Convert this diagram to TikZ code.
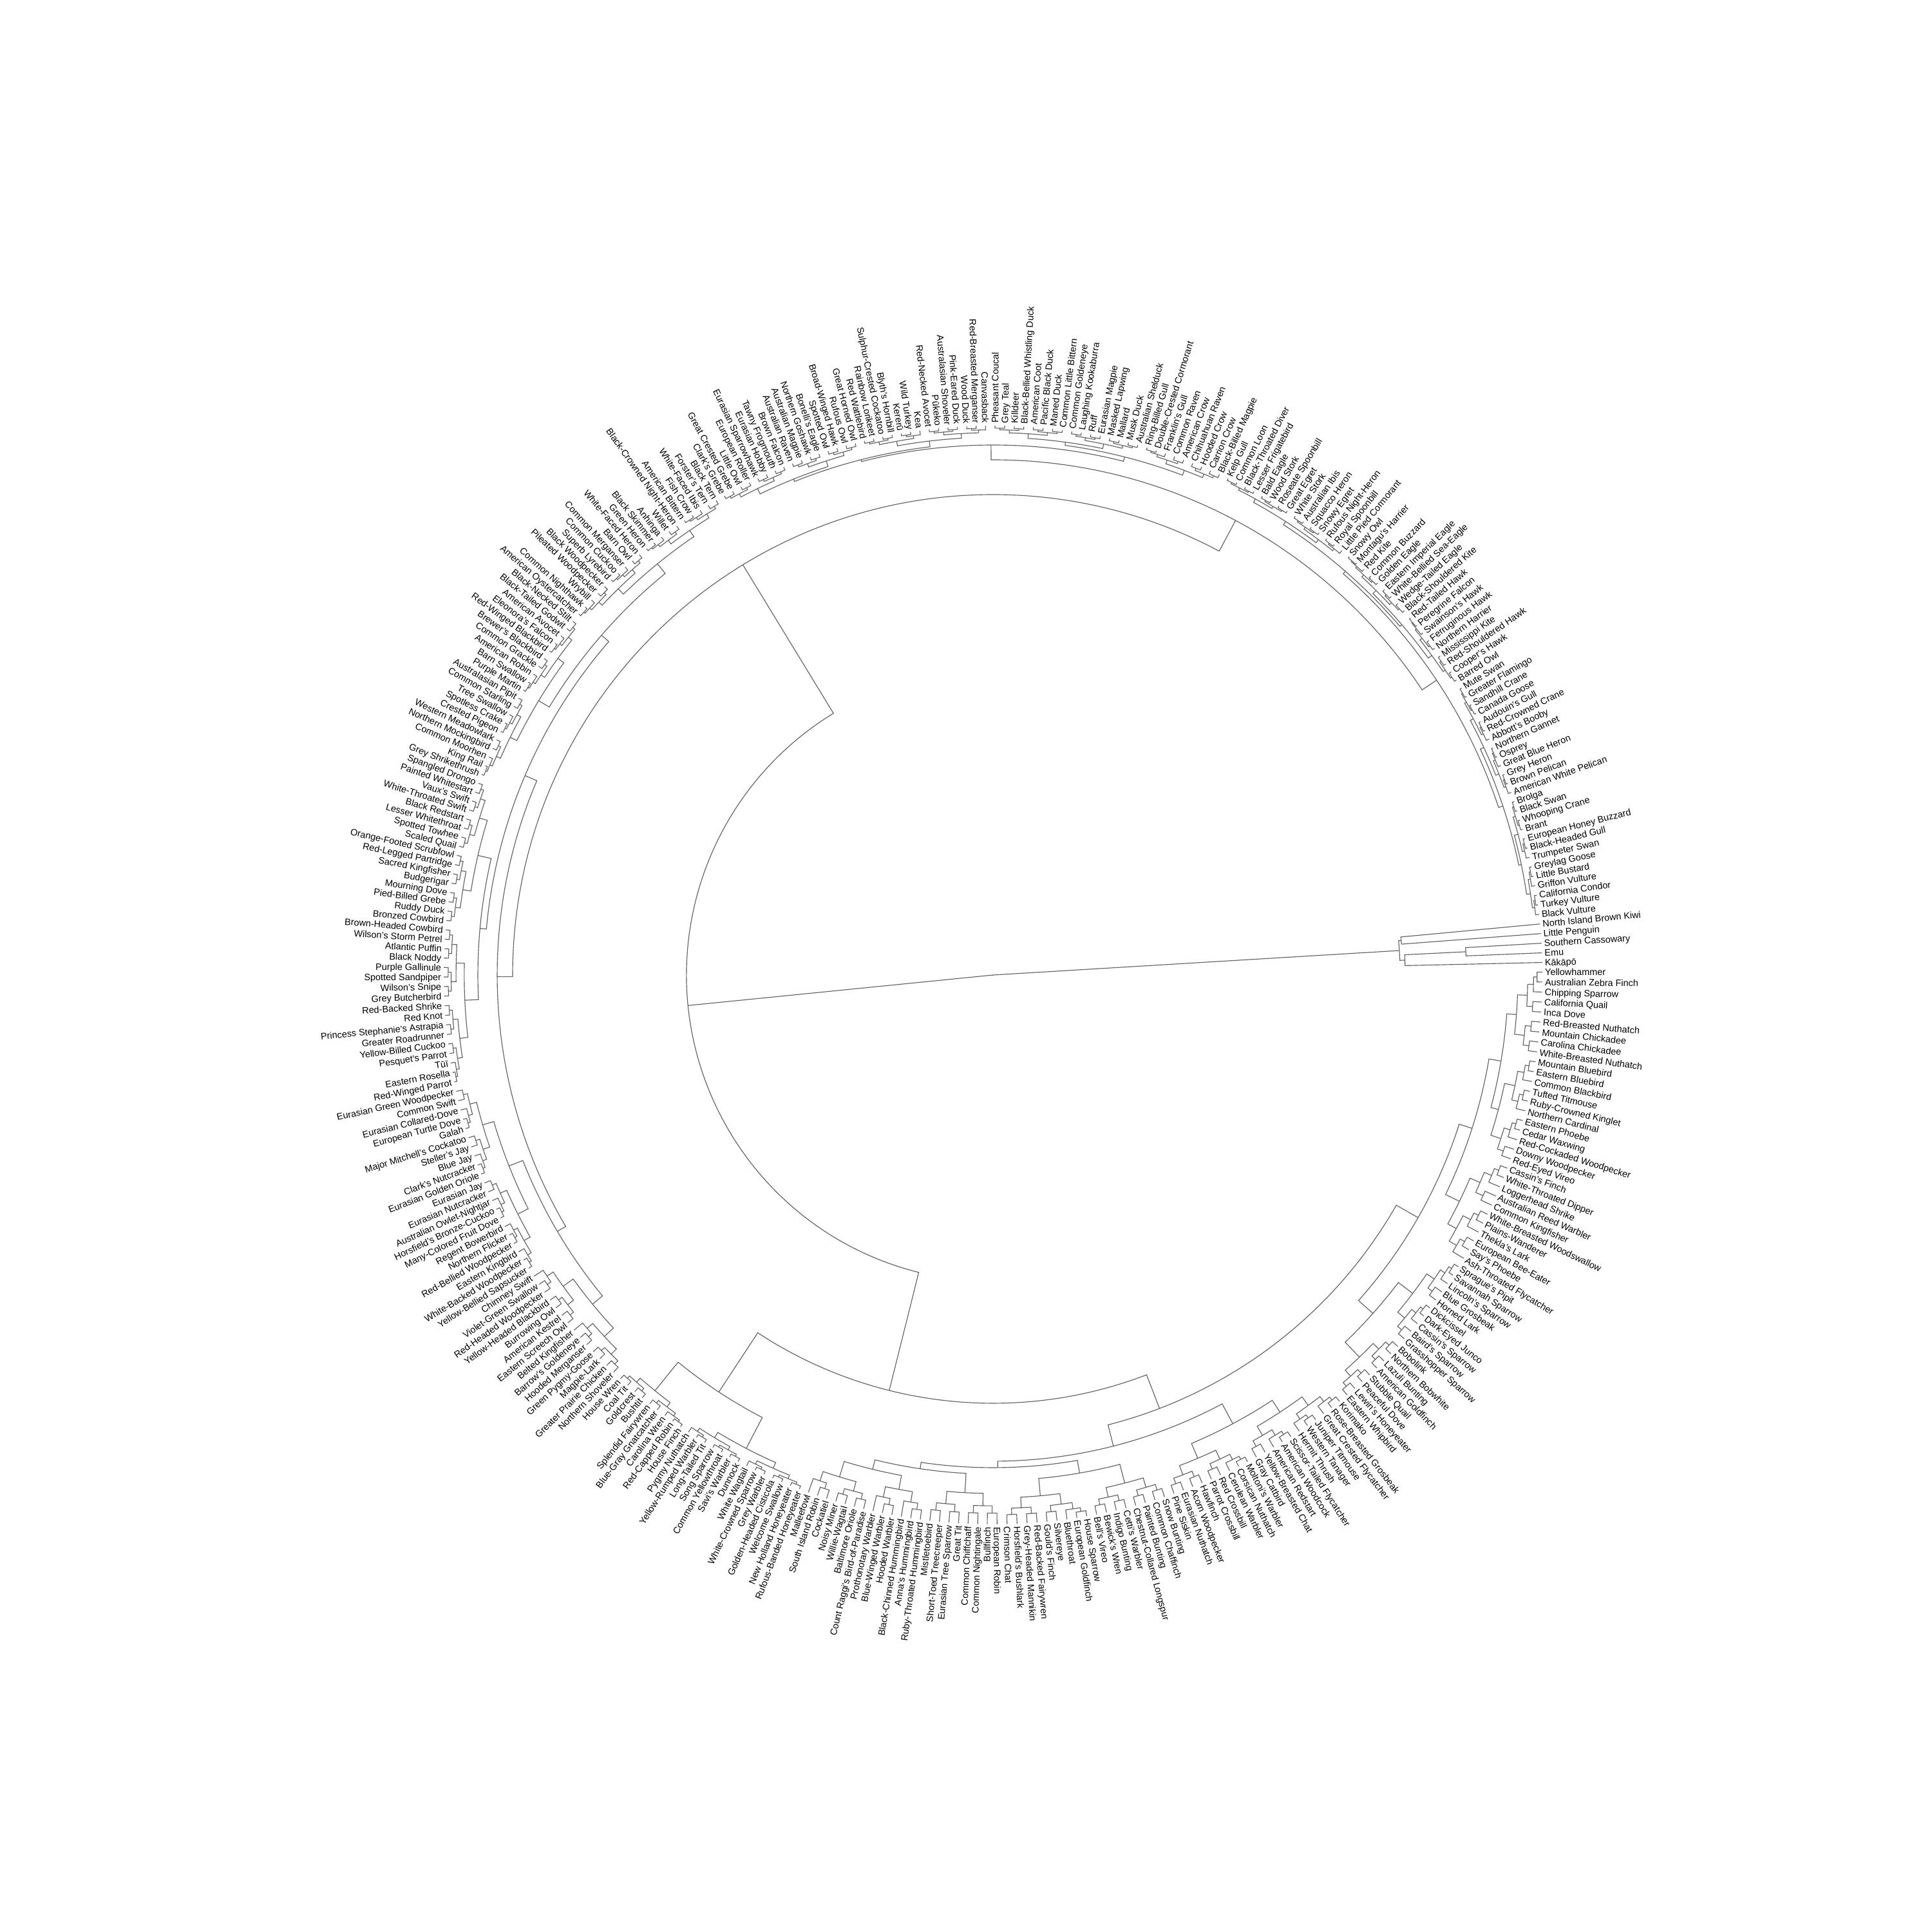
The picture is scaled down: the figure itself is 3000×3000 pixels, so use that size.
\documentclass[tikz,border=0pt]{standalone}
\usepackage{fontspec}
\setmainfont{Liberation Sans}
\tikzset{
  treeline/.style={draw=black!62, line width=1.15pt},
  lab/.style={font=\fontsize{14.4pt}{17pt}\selectfont, inner sep=0pt, text height=10.4pt, text depth=0pt, text=black},
}
\def\Rtip{853}
% tip index -> angle in degrees
\newcommand\tAng[1]{\pgfmathsetmacro\A{(#1<6.3)?(-(#1-6.3)*1.00559):((#1<92.4)?(-(#1-6.3)*1.0453):((#1<182.2)?(-90-(#1-92.4)*1.00223):((#1<273.8)?(-180-(#1-182.2)*0.98253):(-270-(#1-273.8)*1.00559))))}}
% leaf
\newcommand\TL[1]{\xdef\tca{#1}\xdef\tcr{\Rtip}}
% binary node with optional position override: override index, radius, child A, child B
\newcommand\TNo[4]{%
  \begingroup
  \edef\tOv{#1}\edef\tNr{#2}%
  #3\edef\tIa{\tca}\edef\tRa{\tcr}%
  #4\edef\tIb{\tca}\edef\tRb{\tcr}%
  \tAng{\tIa}\let\tAa\A
  \tAng{\tIb}\let\tAb\A
  \draw[treeline] (\tAa:\tRa pt) -- (\tAa:\tNr pt) arc[start angle=\tAa, end angle=\tAb, radius=\tNr pt] -- (\tAb:\tRb pt);
  \ifx\tOv\empty\pgfmathsetmacro\tIm{(\tIa+\tIb)/2}\else\edef\tIm{\tOv}\fi
  \xdef\tca{\tIm}\xdef\tcr{\tNr}%
  \endgroup}
\newcommand\TN[3]{\TNo{}{#1}{#2}{#3}}
% automatic shallow sub-tree over tips a..b, root radius r
\newcommand\TR[3]{%
  \begingroup
  \edef\trA{#1}\edef\trB{#2}\edef\trR{#3}%
  \ifnum\trA=\trB\relax
    \TL{\trA}%
  \else
    \pgfmathtruncatemacro\trM{floor((\trA+\trB)/2)}%
    \pgfmathtruncatemacro\trMp{\trM+1}%
    \pgfmathsetmacro\trRc{\Rtip-(\Rtip-\trR)*0.6}%
    \TN{\trR}{\TR{\trA}{\trM}{\trRc}}{\TR{\trMp}{\trB}{\trRc}}%
  \fi
  \endgroup}
\begin{document}
\begin{tikzpicture}
\useasboundingbox (0pt,0pt) rectangle (3000pt,3000pt);
\fill[white] (0pt,0pt) rectangle (3000pt,3000pt);
\begin{scope}[shift={(1542pt,1486pt)}]
% tree
\TN{0.5}
 {\TN{632}{\TN{636}{\TL{1}}{\TL{2}}}{\TN{640}{\TN{735}{\TL{3}}{\TL{4}}}{\TL{5}}}}
 {\TNo{176.5}{476}
   {\TNo{106.4}{665}
     {\TNo{72.3}{721}
        {\TN{760}
           {\TN{781}{\TN{800}{\TR{6}{14}{815}}{\TR{15}{25}{812}}}{\TN{805}{\TR{26}{30}{822}}{\TR{31}{36}{820}}}}
           {\TN{790}{\TR{37}{46}{818}}{\TR{47}{54}{822}}}}
        {\TN{755}
           {\TN{790}{\TR{55}{65}{812}}{\TR{66}{74}{815}}}
           {\TN{765}{\TN{785}{\TR{75}{82}{815}}{\TR{83}{91}{812}}}{\TN{775}{\TR{92}{99}{805}}{\TN{790}{\TR{100}{105}{812}}{\TR{106}{112}{815}}}}}}}
     {\TN{775}{\TR{113}{126}{829}}{\TR{127}{135}{832}}}}
   {\TN{746}
     {\TNo{182}{770}
        {\TN{785}{\TR{136}{149}{805}}{\TR{150}{170}{808}}}
        {\TN{790}{\TR{171}{203}{800}}{\TR{204}{243}{805}}}}
     {\TN{800}
        {\TN{823}{\TN{826}{\TR{244}{259}{830}}{\TR{260}{273}{835}}}{\TN{830}{\TR{274}{289}{835}}{\TR{290}{298}{838}}}}
        {\TN{827}{\TN{832}{\TR{299}{313}{838}}{\TR{314}{331}{836}}}{\TN{834}{\TR{332}{344}{840}}{\TR{345}{357}{838}}}}}}}
% labels
\foreach \nm [count=\i] in {North Island Brown Kiwi, Little Penguin, Southern Cassowary, Emu, Kākāpō, Yellowhammer, Australian Zebra Finch, Chipping Sparrow, California Quail, Inca Dove, Red-Breasted Nuthatch, Mountain Chickadee, Carolina Chickadee, White-Breasted Nuthatch, Mountain Bluebird, Eastern Bluebird, Common Blackbird, Tufted Titmouse, Ruby-Crowned Kinglet, Northern Cardinal, Eastern Phoebe, Cedar Waxwing, Red-Cockaded Woodpecker, Downy Woodpecker, Red-Eyed Vireo, Cassin's Finch, White-Throated Dipper, Loggerhead Shrike, Australian Reed Warbler, Common Kingfisher, White-Breasted Woodswallow, Plains-Wanderer, Thekla's Lark, European Bee-Eater, Say's Phoebe, Ash-Throated Flycatcher, Sprague's Pipit, Savannah Sparrow, Lincoln's Sparrow, Blue Grosbeak, Horned Lark, Dickcissel, Dark-Eyed Junco, Cassin's Sparrow, Baird's Sparrow, Grasshopper Sparrow, Bobolink, Northern Bobwhite, Lazuli Bunting, American Goldfinch, Stubble Quail, Peaceful Dove, Lewin's Honeyeater, Eastern Whipbird, Korimako, Rose-Breasted Grosbeak, Great Crested Flycatcher, Juniper Titmouse, Western Tanager, Hermit Thrush, Scissor-Tailed Flycatcher, American Woodcock, American Redstart, Yellow-Breasted Chat, Gray Catbird, Moltoni's Warbler, Corsican Nuthatch, Cerulean Warbler, Red Crossbill, Parrot Crossbill, Hawfinch, Acorn Woodpecker, Eurasian Nuthatch, Pine Siskin, Snow Bunting, Common Chaffinch, Painted Bunting, Chestnut-Collared Longspur, Cetti's Warbler, Indigo Bunting, Bewick's Wren, Bell's Vireo, House Sparrow, European Goldfinch, Bluethroat, Silvereye, Gould's Finch, Red-Backed Fairywren, Grey-Headed Mannikin, Horsfield's Bushlark, Crimson Chat, European Robin, Bullfinch, Common Nightingale, Common Chiffchaff, Great Tit, Eurasian Tree Sparrow, Short-Toed Treecreeper, Mistletoebird, Ruby-Throated Hummingbird, Anna's Hummingbird, Black-Chinned Hummingbird, Hooded Warbler, Blue-Winged Warbler, Prothonotary Warbler, Count Raggi's Bird-of-Paradise, Baltimore Oriole, Willie-Wagtail, Noisy Miner, Cockatiel, South Island Robin, Malleefowl, Rufous-Banded Honeyeater, New Holland Honeyeater, Welcome Swallow, Golden-Headed Cisticola, Grey Warbler, White-Crowned Sparrow, White Wagtail, Dunnock, Savi's Warbler, Common Yellowthroat, Song Sparrow, Long-Tailed Tit, Yellow-Rumped Warbler, Pygmy Nuthatch, House Finch, Red-Capped Robin, Carolina Wren, Blue-Gray Gnatcatcher, Splendid Fairywren, Bushtit, Goldcrest, Coal Tit, House Wren, Northern Shoveler, Greater Prairie Chicken, Magpie-Lark, Green Pygmy-Goose, Hooded Merganser, Barrow's Goldeneye, Belted Kingfisher, Eastern Screech Owl, American Kestrel, Burrowing Owl, Yellow-Headed Blackbird, Red-Headed Woodpecker, Violet-Green Swallow, Chimney Swift, Yellow-Bellied Sapsucker, White-Backed Woodpecker, Eastern Kingbird, Red-Bellied Woodpecker, Northern Flicker, Regent Bowerbird, Many-Colored Fruit Dove, Horsfield's Bronze-Cuckoo, Australian Owlet-Nightjar, Eurasian Nutcracker, Eurasian Jay, Eurasian Golden Oriole, Clark's Nutcracker, Blue Jay, Steller's Jay, Major Mitchell's Cockatoo, Galah, European Turtle Dove, Eurasian Collared-Dove, Common Swift, Eurasian Green Woodpecker, Red-Winged Parrot, Eastern Rosella, Tūī, Pesquet's Parrot, Yellow-Billed Cuckoo, Greater Roadrunner, Princess Stephanie's Astrapia, Red Knot, Red-Backed Shrike, Grey Butcherbird, Wilson's Snipe, Spotted Sandpiper, Purple Gallinule, Black Noddy, Atlantic Puffin, Wilson's Storm Petrel, Brown-Headed Cowbird, Bronzed Cowbird, Ruddy Duck, Pied-Billed Grebe, Mourning Dove, Budgerigar, Sacred Kingfisher, Red-Legged Partridge, Orange-Footed Scrubfowl, Scaled Quail, Spotted Towhee, Lesser Whitethroat, Black Redstart, White-Throated Swift, Vaux's Swift, Painted Whitestart, Spangled Drongo, Grey Shrikethrush, King Rail, Common Moorhen, Northern Mockingbird, Western Meadowlark, Crested Pigeon, Spotless Crake, Tree Swallow, Common Starling, Australasian Pipit, Purple Martin, Barn Swallow, American Robin, Common Grackle, Brewer's Blackbird, Red-Winged Blackbird, Eleonora's Falcon, American Avocet, Black-Tailed Godwit, Black-Necked Stilt, American Oystercatcher, Common Nighthawk, Wrybill, Pileated Woodpecker, Black Woodpecker, Superb Lyrebird, Common Cuckoo, Common Merganser, Barn Owl, White-Faced Heron, Green Heron, Black Skimmer, Anhinga, Willet, Black-Crowned Night-Heron, American Bittern, Fish Crow, White-Faced Ibis, Forster's Tern, Black Tern, Clark's Grebe, Great Crested Grebe, Little Owl, European Roller, Eurasian Sparrowhawk, Eurasian Hobby, Tawny Frogmouth, Brown Falcon, Australian Raven, Australian Magpie, Northern Goshawk, Bonelli's Eagle, Spotted Owl, Broad-Winged Hawk, Rufous Owl, Great Horned Owl, Red Wattlebird, Rainbow Lorikeet, Sulphur-Crested Cockatoo, Blyth's Hornbill, Kererū, Wild Turkey, Kea, Red-Necked Avocet, Pūkeko, Australasian Shoveler, Pink-Eared Duck, Wood Duck, Red-Breasted Merganser, Canvasback, Pheasant Coucal, Grey Teal, Killdeer, Black-Bellied Whistling Duck, American Coot, Pacific Black Duck, Maned Duck, Common Little Bittern, Common Goldeneye, Laughing Kookaburra, Ruff, Eurasian Magpie, Masked Lapwing, Mallard, Musk Duck, Australian Shelduck, Ring-Billed Gull, Double-Crested Cormorant, Franklin's Gull, Common Raven, American Crow, Chihuahuan Raven, Hooded Crow, Carrion Crow, Black-Billed Magpie, Kelp Gull, Common Loon, Black-Throated Diver, Lesser Frigatebird, Bald Eagle, Wood Stork, Roseate Spoonbill, Great Egret, White Stork, Australian Ibis, Squacco Heron, Snowy Egret, Rufous Night-Heron, Royal Spoonbill, Little Pied Cormorant, Snowy Owl, Montagu's Harrier, Red Kite, Common Buzzard, Golden Eagle, Eastern Imperial Eagle, White-Bellied Sea-Eagle, Wedge-Tailed Eagle, Black-Shouldered Kite, Red-Tailed Hawk, Peregrine Falcon, Swainson's Hawk, Ferruginous Hawk, Northern Harrier, Mississippi Kite, Red-Shouldered Hawk, Cooper's Hawk, Barred Owl, Mute Swan, Greater Flamingo, Sandhill Crane, Canada Goose, Audouin's Gull, Red-Crowned Crane, Abbott's Booby, Northern Gannet, Osprey, Great Blue Heron, Grey Heron, Brown Pelican, American White Pelican, Brolga, Black Swan, Whooping Crane, Brant, European Honey Buzzard, Black-Headed Gull, Trumpeter Swan, Greylag Goose, Little Bustard, Griffon Vulture, California Condor, Turkey Vulture, Black Vulture}{%
  \tAng{\i}%
  \pgfmathsetmacro\An{mod(\A+540,360)-180}%
  \pgfmathtruncatemacro\side{(abs(\An)>90)?1:0}%
  \ifnum\side=1
    \pgfmathsetmacro\rot{\An+180}%
    \node[lab, rotate=\rot, anchor=east] (t\i) at (\A:857pt) {\nm};
  \else
    \node[lab, rotate=\An, anchor=west] (t\i) at (\A:857pt) {\nm};
  \fi
}
\end{scope}
\end{tikzpicture}
\end{document}
